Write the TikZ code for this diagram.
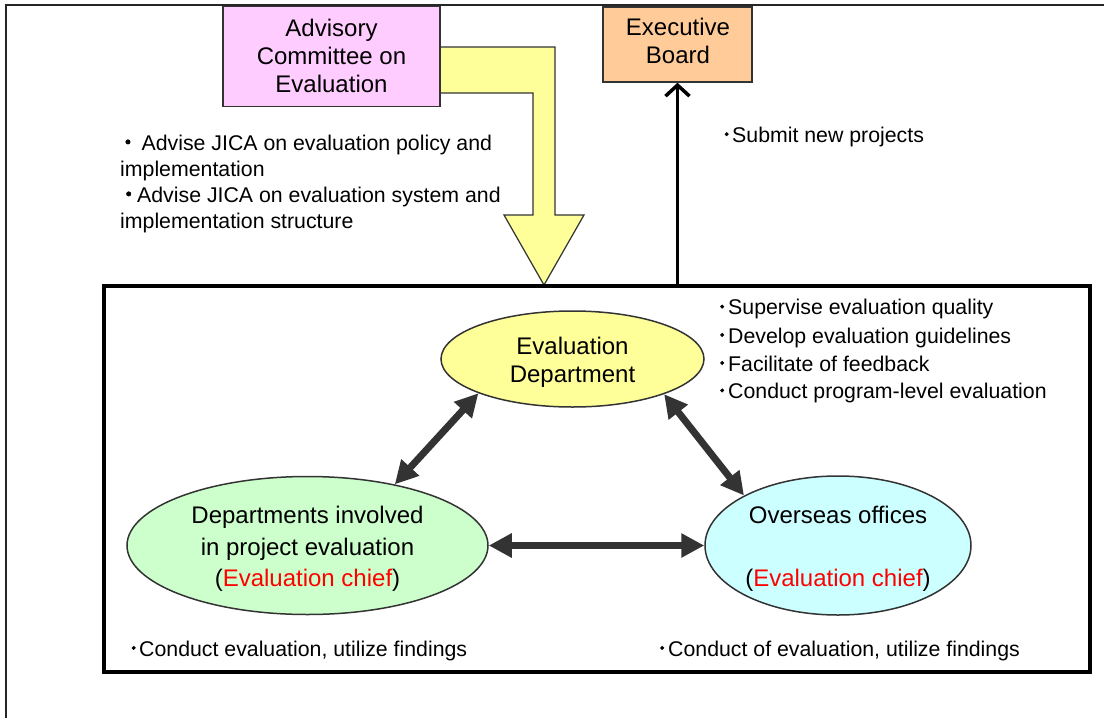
\documentclass[tikz,border=0pt]{standalone}
\usepackage{fontspec}
\setmainfont{Liberation Sans}
\newfontfamily\cjk{Noto Sans CJK JP}[FakeBold=2]
\usetikzlibrary{arrows.meta,shapes.geometric}
\definecolor{pinkf}{HTML}{FFCCFF}
\definecolor{orangef}{HTML}{FFCC99}
\definecolor{yellowf}{HTML}{FFFF99}
\definecolor{greenf}{HTML}{CCFFCC}
\definecolor{cyanf}{HTML}{CCFFFF}
\definecolor{edgec}{HTML}{333333}
\newcommand{\fwdot}[1]{\makebox[#1]{\cjk ・}}
\newcommand{\hwdot}[1]{\makebox[#1]{\cjk ･}}
\begin{document}
\begin{tikzpicture}[x=1pt,y=-1pt,
  boxst/.style={draw=edgec, line width=1.5pt, rectangle, inner sep=0},
  ellst/.style={draw=edgec, line width=1.5pt, ellipse, inner sep=0},
  bigtxt/.style={font=\fontsize{24}{28}\selectfont, align=center, inner sep=0},
  note/.style={font=\fontsize{21.3}{26}\selectfont, inner sep=0, anchor=base west},
  dbl/.style={draw=edgec, line width=7pt, {Triangle[length=23pt,width=23pt]}-{Triangle[length=23pt,width=23pt]}},
]
\useasboundingbox (0,0) rectangle (1104,718);
% outer frame
\draw[line width=2pt, black!85] (1104,5) -- (6,5) -- (6,718);
% yellow block arrow
\draw[draw=edgec, line width=1.2pt, fill=yellowf]
  (440,47) -- (555,47) -- (555,215) -- (584,215) -- (544,285) -- (504,215)
  -- (533,215) -- (533,93) -- (440,93) -- cycle;
% top boxes
\node[boxst, fill=pinkf, minimum width=217pt, minimum height=100pt] (adv) at (331.5,56.7) {};
\node[bigtxt] (advt) at (331.5,56.4) {Advisory\\Committee on\\Evaluation};
\node[boxst, fill=orangef, minimum width=149pt, minimum height=75pt] (exec) at (677.5,44.5) {};
\node[bigtxt] (exect) at (678,40.6) {Executive\\Board};
% inner frame
\node[draw=black, line width=4pt, rectangle, minimum width=986pt, minimum height=386pt, inner sep=0] (inner) at (597,479) {};
% submit arrow
\draw[line width=3.5pt, -{Straight Barb[length=11pt,width=24pt]}] (exec.south |- inner.north) -- (exec.south);
% ellipses
\node[ellst, fill=yellowf, minimum width=263pt, minimum height=96pt] (ed) at (572.5,359) {};
\node[ellst, fill=greenf, minimum width=361pt, minimum height=138pt] (dep) at (307.5,545.5) {};
\node[ellst, fill=cyanf, minimum width=266pt, minimum height=139pt] (ov) at (838,545.5) {};
\node[bigtxt] (edt) at (572.5,361.8) {Evaluation\\Department};
\node[bigtxt, font=\fontsize{24}{31.5}\selectfont] (dept) at (307.5,548.9) {Departments involved\\in project evaluation\\(\textcolor{red}{Evaluation chief})};
\node[bigtxt, font=\fontsize{24}{31.5}\selectfont] (ovt) at (838,548.9) {Overseas offices\\[31.5pt](\textcolor{red}{Evaluation chief})};
% double arrows
\draw[dbl] (dep.35.5) -- (ed.200);
\draw[dbl] (ed.-21) -- (ov.152);
\draw[dbl] (dep.east) -- (ov.west);
% notes
\node[note] (a1) at (120,150) {\fwdot{15.5pt}\ Advise JICA on evaluation policy and};
\node[note] (a2) at (120,176) {implementation};
\node[note] (a3) at (120,202) {\fwdot{17pt}Advise JICA on evaluation system and};
\node[note] (a4) at (120,228) {implementation structure};
\node[note] (s1) at (721,142.3) {\hwdot{11pt}Submit new projects};
\node[note] (r1) at (716,314.7) {\hwdot{12pt}Supervise evaluation quality};
\node[note] (r2) at (716,343) {\hwdot{12pt}Develop evaluation guidelines};
\node[note] (r3) at (716,371) {\hwdot{12pt}Facilitate of feedback};
\node[note] (r4) at (716,398.5) {\hwdot{12pt}Conduct program-level evaluation};
\node[note] (b1) at (128,656) {\hwdot{11pt}Conduct evaluation, utilize findings};
\node[note] (b2) at (656,656) {\hwdot{12pt}Conduct of evaluation, utilize findings};
\end{tikzpicture}
\end{document}
